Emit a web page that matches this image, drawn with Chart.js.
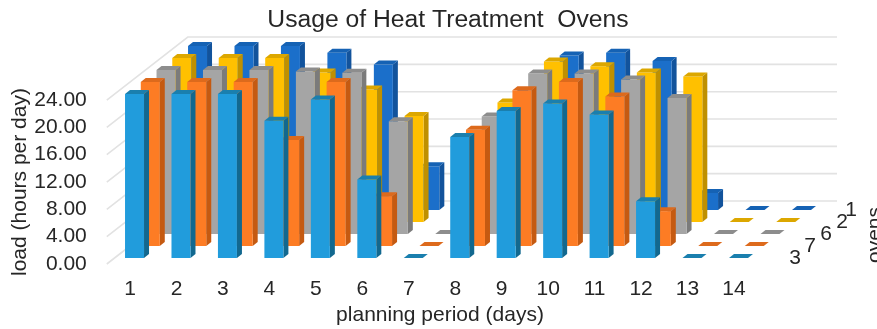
<!DOCTYPE html>
<html>
<head>
<meta charset="utf-8">
<title>Usage of Heat Treatment Ovens</title>
<script src="https://cdn.jsdelivr.net/npm/chart.js@4/dist/chart.umd.min.js"></script>
<style>
  html, body { margin: 0; padding: 0; background: #ffffff; overflow: hidden; }
  #wrap { position: relative; width: 877px; height: 329px; }
</style>
</head>
<body>
<div id="wrap"><canvas id="ovens"></canvas></div>
<script>
// Planning periods along the horizontal axis
const days = ['1','2','3','4','5','6','7','8','9','10','11','12','13','14'];
const loadTicks = [0, 4, 8, 12, 16, 20, 24];

// Daily load per oven, in hours; rows run front to back
const oven3 = [24, 24, 24, 20.1, 23.2, 11.5, 0, 17.7, 21.5, 22.6, 21, 8.3, 0, 0];
const oven7 = [24, 24, 24, 15.5, 24, 7.3, 0, 17, 22.8, 24, 21.9, 5.1, 0, 0];
const oven6 = [24, 24, 24, 23.8, 23.6, 16.5, 0, 17.2, 23.5, 23.5, 22.6, 19.9, 0, 0];
const oven2 = [24, 24, 24, 21.9, 19.4, 15.5, 0, 17.5, 23.5, 22.8, 21.9, 21.3, 0, 0];
const oven1 = [24, 24, 24, 23, 21.3, 6.4, 0, 17, 22.6, 23, 21.8, 2.5, 0, 0];

const ovenNames = ['3', '7', '6', '2', '1'];
const ovenValues = [oven3, oven7, oven6, oven2, oven1];

// Face colours of each row's bars
const frontColors = ['#219cdc', '#fd7c24', '#a5a5a5', '#ffc000', '#1b6fca'];
const sideColors  = ['#12688f', '#c55a11', '#7b7b7b', '#bf9000', '#12539c'];
const topColors   = ['#1a7fae', '#dd6a1c', '#8d8d8d', '#dca700', '#1562b4'];

// Oblique projection used for the depth axis
const ROW_DX = 15.75, ROW_DY = 12;
const FIRST_ROW_DX = 4.5, FIRST_ROW_DY = 6;
const CAP_DX = 5, CAP_DY = 4;
const WALL_DX = 81, WALL_DY = 63, WALL_RIGHT = 837;
const FONT = '"Liberation Sans", Arial, sans-serif';
const INK = '#262626';

function polygon(ctx, color, pts) {
  ctx.fillStyle = color;
  ctx.beginPath();
  pts.forEach((p, i) => i ? ctx.lineTo(p[0], p[1]) : ctx.moveTo(p[0], p[1]));
  ctx.closePath();
  ctx.fill();
}

// Draws the bars of each dataset as prisms pushed back along the depth axis
const prismBars = {
  id: 'prismBars',
  beforeDatasetDraw(chart, args) {
    const ctx = chart.ctx, row = args.index;
    const sx = FIRST_ROW_DX + ROW_DX * row;
    const sy = -FIRST_ROW_DY - ROW_DY * row;
    ctx.save();
    args.meta.data.forEach(bar => {
      const p = bar.getProps(['x', 'y', 'base', 'width'], true);
      const l = p.x - p.width / 2 + sx, r = l + p.width;
      const t = p.y + sy, b = p.base + sy;
      polygon(ctx, sideColors[row], [[r, t], [r + CAP_DX, t - CAP_DY], [r + CAP_DX, b - CAP_DY], [r, b]]);
      polygon(ctx, frontColors[row], [[l, t], [r, t], [r, b], [l, b]]);
      polygon(ctx, topColors[row], [[l, t], [l + CAP_DX, t - CAP_DY], [r + CAP_DX, t - CAP_DY], [r, t]]);
    });
    ctx.restore();
    return false;
  }
};

// Side and back walls of the plot, with one rule per load tick
const wallRules = {
  id: 'wallRules',
  beforeDatasetsDraw(chart) {
    const ctx = chart.ctx, y = chart.scales.y, x0 = chart.chartArea.left;
    ctx.save();
    ctx.strokeStyle = '#e2e2e2';
    ctx.lineWidth = 1.6;
    loadTicks.forEach(v => {
      const py = y.getPixelForValue(v);
      ctx.beginPath();
      ctx.moveTo(x0, py);
      ctx.lineTo(x0 + WALL_DX, py - WALL_DY);
      ctx.lineTo(WALL_RIGHT, py - WALL_DY);
      ctx.stroke();
    });
    ctx.restore();
  }
};

// Depth-axis labels and the titles of the horizontal and depth axes
const axisText = {
  id: 'axisText',
  afterDraw(chart) {
    const ctx = chart.ctx, y0 = chart.scales.y.getPixelForValue(0);
    const labelX = [795, 810, 826, 842, 851];
    ctx.save();
    ctx.fillStyle = INK;
    ctx.textAlign = 'center';
    ctx.textBaseline = 'middle';
    ctx.font = '21px ' + FONT;
    ovenNames.forEach((name, row) => {
      ctx.fillText(name, labelX[row], y0 - FIRST_ROW_DY - ROW_DY * row);
    });
    ctx.fillText('planning period (days)', 440, 315);
    ctx.translate(881, 235);
    ctx.rotate(-Math.PI / 2);
    ctx.textBaseline = 'alphabetic';
    ctx.fillText('ovens', 0, 0);
    ctx.restore();
  }
};

new Chart(document.getElementById('ovens'), {
  type: 'bar',
  data: {
    labels: days,
    datasets: ovenNames.map((name, i) => ({
      label: name,
      data: ovenValues[i],
      backgroundColor: frontColors[i]
    }))
  },
  plugins: [wallRules, prismBars, axisText],
  options: {
    responsive: true,
    maintainAspectRatio: false,
    animation: false,
    layout: { padding: { left: 19, right: 0, top: 0, bottom: 0 } },
    datasets: { bar: { grouped: false, barPercentage: 0.409, categoryPercentage: 1 } },
    plugins: {
      legend: { display: false },
      tooltip: { enabled: false },
      title: {
        display: true,
        text: 'Usage of Heat Treatment  Ovens',
        color: INK,
        font: { family: FONT, size: 24.7, weight: 'normal', lineHeight: 1.2 },
        padding: { top: 5, bottom: 65.4 }
      }
    },
    scales: {
      x: {
        type: 'category',
        grid: { display: false },
        border: { display: false },
        ticks: { color: INK, font: { family: FONT, size: 21 }, padding: 5, maxRotation: 0, autoSkip: false },
        afterFit(scale) { scale.height = 65; }
      },
      y: {
        min: 0,
        max: 24,
        grid: { display: false },
        border: { display: false },
        ticks: {
          color: INK,
          font: { family: FONT, size: 21 },
          padding: 12,
          stepSize: 4,
          autoSkip: false,
          callback: v => v.toFixed(2)
        },
        title: {
          display: true,
          text: 'load (hours per day)',
          color: INK,
          font: { family: FONT, size: 21 },
          padding: { top: -11, bottom: 0 }
        },
        afterFit(scale) { scale.width = 87.8; }
      },
      depth: {
        type: 'linear',
        position: 'right',
        grid: { display: false },
        border: { display: false },
        ticks: { display: false },
        afterFit(scale) { scale.width = 119.8; }
      }
    }
  }
});
</script>
</body>
</html>
